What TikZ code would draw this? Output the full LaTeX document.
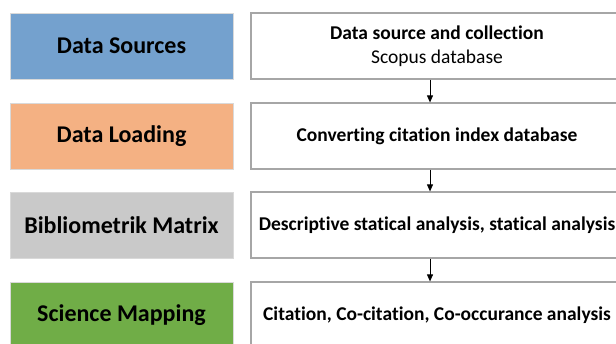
\documentclass[tikz,border=0pt]{standalone}
\usepackage{fontspec}
\setmainfont[Ligatures=NoCommon]{Carlito}
\usetikzlibrary{arrows.meta}
\definecolor{cblue}{HTML}{74A1CE}
\definecolor{corange}{HTML}{F4B183}
\definecolor{cgray}{HTML}{C9C9C9}
\definecolor{cgreen}{HTML}{70AD47}
\definecolor{cedge}{HTML}{A6A6A6}
\begin{document}
\begin{tikzpicture}[x=1pt,y=-1pt,
  lbox/.style={minimum width=223pt,minimum height=66pt,inner sep=0pt,draw=black!15,line width=0.8pt,font=\fontsize{24}{28}\selectfont\bfseries},
  rbox/.style={minimum width=372pt,minimum height=66pt,inner sep=0pt,draw=cedge,line width=1.2pt,fill=white,font=\fontsize{19.5}{24.5}\selectfont,align=center},
  conn/.style={-{Triangle[length=7pt,width=6pt]},line width=0.9pt}]
\clip (0,0) rectangle (616,343);
\fill[white] (0,0) rectangle (616,343);
\node[lbox,fill=cblue]   (l1) at (121.5,46)  {Data Sources};
\node[lbox,fill=corange] (l2) at (121.5,136) {Data Loading};
\node[lbox,fill=cgray]   (l3) at (121.5,225) {Bibliometrik Matrix};
\node[lbox,fill=cgreen]  (l4) at (121.5,315) {Science Mapping};
\node[rbox] (r1) at (437,46)  {\textbf{Data source and collection}\\Scopus database};
\node[rbox] (r2) at (437,136) {\textbf{Converting citation index database}};
\node[rbox] (r3) at (437,225) {\textbf{Descriptive statical analysis, statical analysis}};
\node[rbox] (r4) at (437,315) {\textbf{Citation, Co-citation, Co-occurance analysis}};
\coordinate (ax) at (430,0);
\draw[conn] (r1.south -| ax) -- (r2.north -| ax);
\draw[conn] (r2.south -| ax) -- (r3.north -| ax);
\draw[conn] (r3.south -| ax) -- (r4.north -| ax);
\end{tikzpicture}
\end{document}
